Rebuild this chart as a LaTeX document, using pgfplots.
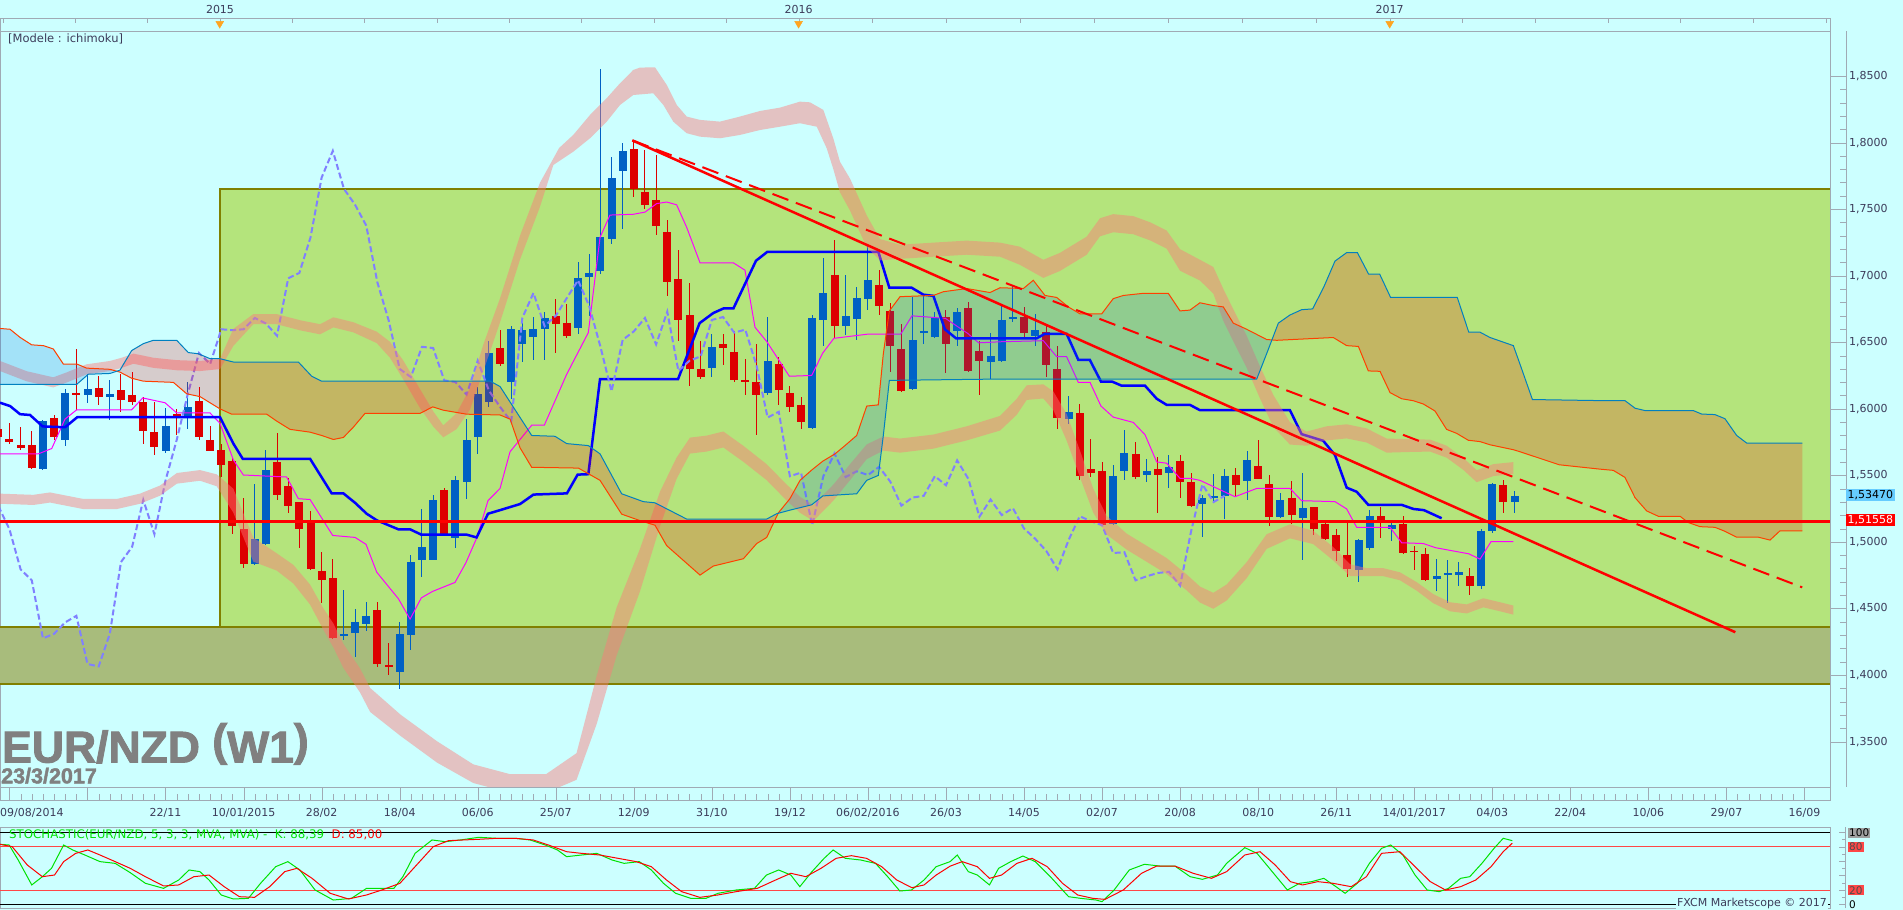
\documentclass[border=0pt]{standalone}
\usepackage{pgfplots}
\pgfplotsset{compat=1.18}
\usepackage{pgfplotstable}
\usepackage{fontspec}
\setmainfont{DejaVu Sans}
\newfontfamily\titlefont{Liberation Sans}[FakeBold=2]

\definecolor{bgcyan}{RGB}{204,255,255}
\definecolor{boxgreen}{RGB}{180,228,124}
\definecolor{boxdark}{RGB}{168,188,124}
\definecolor{olivebox}{RGB}{128,128,0}
\definecolor{cblue}{RGB}{0,96,196}
\definecolor{cred}{RGB}{221,0,0}
\definecolor{kijun}{RGB}{0,0,255}
\definecolor{tenkan}{RGB}{255,0,255}
\definecolor{chikou}{RGB}{128,128,255}
\definecolor{spanAcol}{RGB}{255,64,0}
\definecolor{spanBcol}{RGB}{0,128,192}
\definecolor{bandpink}{RGB}{255,120,120}
\definecolor{cloudred}{RGB}{255,0,0}
\definecolor{cloudblue}{RGB}{0,110,220}
\definecolor{axisgray}{RGB}{160,170,180}
\definecolor{labeltext}{RGB}{60,60,90}
\definecolor{stochgreen}{RGB}{0,225,0}
\definecolor{stochred}{RGB}{255,70,70}
\definecolor{titlegray}{RGB}{128,128,128}
\definecolor{pricelblue}{RGB}{102,204,255}
\definecolor{orangemark}{RGB}{255,165,32}

% weekly candles, x = weeks from 10/01/2015
\pgfplotstableread{
w o h l c
-18 1.5546 1.5914 1.5537 1.5911
-16 1.5764 1.6153 1.5724 1.6119
-14 1.6101 1.6260 1.6046 1.6150
-12 1.6089 1.6214 1.5917 1.6113
-7 1.5687 1.6006 1.5672 1.5871
-5 1.5944 1.6199 1.5852 1.6012
1 1.4831 1.5438 1.4825 1.5024
2 1.4982 1.5693 1.4979 1.5543
9 1.4298 1.4641 1.4267 1.4310
10 1.4319 1.4497 1.4138 1.4396
11 1.4383 1.4549 1.4328 1.4445
14 1.4022 1.4396 1.3899 1.4310
15 1.4298 1.4902 1.4190 1.4849
16 1.4862 1.5248 1.4739 1.4963
17 1.4868 1.5350 1.4865 1.5316
19 1.5028 1.5494 1.4951 1.5463
20 1.5448 1.5923 1.5325 1.5767
21 1.5785 1.6162 1.5662 1.6113
22 1.6052 1.6512 1.6015 1.6420
24 1.6199 1.6622 1.6076 1.6598
25 1.6484 1.6683 1.6352 1.6591
26 1.6542 1.6690 1.6368 1.6598
27 1.6598 1.6726 1.6368 1.6683
30 1.6607 1.7104 1.6561 1.6981
31 1.6987 1.7165 1.6696 1.7021
32 1.7036 1.8554 1.7012 1.7288
33 1.7278 1.7892 1.7242 1.7738
34 1.7788 1.7999 1.7349 1.7938
42 1.6306 1.6561 1.6239 1.6466
47 1.6122 1.6690 1.6107 1.6362
51 1.5855 1.6705 1.5852 1.6683
52 1.6665 1.7134 1.6475 1.6871
54 1.6619 1.7006 1.6552 1.6699
55 1.6677 1.6914 1.6518 1.6834
56 1.6822 1.7226 1.6745 1.6966
60 1.6153 1.6843 1.6144 1.6518
61 1.6570 1.6858 1.6484 1.6582
62 1.6542 1.6730 1.6536 1.6683
64 1.6582 1.6757 1.6475 1.6730
67 1.6349 1.6567 1.6224 1.6395
68 1.6362 1.6782 1.6352 1.6668
69 1.6680 1.6929 1.6653 1.6690
71 1.6545 1.6714 1.6475 1.6595
74 1.5923 1.6098 1.5883 1.5978
78 1.5132 1.5576 1.5129 1.5494
79 1.5531 1.5843 1.5463 1.5665
81 1.5506 1.5622 1.5448 1.5531
83 1.5518 1.5653 1.5402 1.5564
86 1.5285 1.5353 1.5040 1.5334
87 1.5334 1.5512 1.5294 1.5346
88 1.5343 1.5549 1.5172 1.5494
90 1.5457 1.5684 1.5319 1.5613
93 1.5190 1.5371 1.5181 1.5319
95 1.5178 1.5515 1.4862 1.5254
100 1.4788 1.5024 1.4703 1.5015
101 1.4951 1.5242 1.4942 1.5193
103 1.5095 1.5147 1.5009 1.5126
107 1.4721 1.4874 1.4635 1.4742
108 1.4755 1.4865 1.4543 1.4767
109 1.4755 1.4849 1.4672 1.4776
111 1.4666 1.5095 1.4650 1.5086
112 1.5080 1.5444 1.5064 1.5432
114 1.5300 1.5386 1.5218 1.5347
}\upc

\pgfplotstableread{
w o h l c
-22 1.5846 1.5877 1.5770 1.5785
-21 1.5770 1.5892 1.5739 1.5748
-20 1.5730 1.5862 1.5693 1.5708
-19 1.5730 1.5831 1.5552 1.5555
-17 1.5935 1.5954 1.5764 1.5785
-15 1.6119 1.6450 1.5990 1.6101
-13 1.6156 1.6248 1.6030 1.6092
-11 1.6144 1.6260 1.5978 1.6070
-10 1.6101 1.6276 1.6030 1.6055
-9 1.6052 1.6092 1.5739 1.5831
-8 1.5828 1.6052 1.5653 1.5717
-6 1.5960 1.6000 1.5806 1.5929
-4 1.6061 1.6168 1.5764 1.5791
-3 1.5767 1.5868 1.5684 1.5687
-2 1.5693 1.5733 1.5488 1.5576
-1 1.5610 1.5632 1.5058 1.5120
0 1.5095 1.5331 1.4804 1.4831
3 1.5601 1.5822 1.5319 1.5356
4 1.5420 1.5478 1.5218 1.5270
5 1.5300 1.5300 1.4957 1.5095
6 1.5147 1.5233 1.4791 1.4794
7 1.4785 1.4926 1.4543 1.4712
8 1.4730 1.4874 1.4273 1.4276
12 1.4491 1.4549 1.4058 1.4083
13 1.4077 1.4242 1.4000 1.4065
18 1.5392 1.5408 1.5055 1.5058
23 1.6460 1.6591 1.6322 1.6337
28 1.6696 1.6828 1.6420 1.6641
29 1.6644 1.6788 1.6536 1.6549
35 1.7953 1.8017 1.7591 1.7653
36 1.7631 1.7947 1.7502 1.7533
37 1.7570 1.7904 1.7303 1.7377
38 1.7331 1.7416 1.6849 1.6950
39 1.6972 1.7196 1.6512 1.6668
40 1.6702 1.6944 1.6174 1.6300
41 1.6297 1.6512 1.6224 1.6239
43 1.6484 1.6561 1.6331 1.6457
44 1.6429 1.6582 1.6199 1.6214
45 1.6214 1.6374 1.6101 1.6202
46 1.6199 1.6484 1.5800 1.6107
48 1.6334 1.6389 1.6030 1.6138
49 1.6116 1.6168 1.5978 1.6015
50 1.6027 1.6086 1.5849 1.5905
53 1.7006 1.7266 1.6530 1.6622
57 1.6932 1.7042 1.6705 1.6772
58 1.6736 1.6794 1.6276 1.6469
59 1.6450 1.6634 1.6128 1.6131
63 1.6693 1.6745 1.6269 1.6484
65 1.6760 1.6806 1.6276 1.6285
66 1.6435 1.6512 1.6101 1.6362
70 1.6690 1.6766 1.6536 1.6573
72 1.6576 1.6628 1.6236 1.6328
73 1.6300 1.6469 1.5852 1.5935
75 1.5966 1.6036 1.5463 1.5494
76 1.5549 1.5770 1.5488 1.5521
77 1.5534 1.5601 1.5123 1.5126
80 1.5662 1.5751 1.5472 1.5488
82 1.5549 1.5641 1.5218 1.5503
84 1.5610 1.5650 1.5331 1.5454
85 1.5448 1.5515 1.5264 1.5273
89 1.5500 1.5558 1.5340 1.5426
91 1.5567 1.5764 1.5472 1.5475
92 1.5432 1.5500 1.5120 1.5190
94 1.5334 1.5457 1.5135 1.5202
96 1.5261 1.5261 1.5055 1.5101
97 1.5135 1.5150 1.5018 1.5024
98 1.5052 1.5095 1.4856 1.4932
99 1.4899 1.5156 1.4733 1.4794
102 1.5193 1.5264 1.5028 1.5156
104 1.5135 1.5193 1.4911 1.4917
105 1.4935 1.4972 1.4788 1.4923
106 1.4911 1.4957 1.4709 1.4712
110 1.4748 1.4804 1.4604 1.4672
113 1.5426 1.5463 1.5218 1.5300
}\dnc

\begin{document}
\begin{tikzpicture}
\useasboundingbox (0pt,0pt) rectangle (1903pt,910pt);
\fill[bgcyan] (0pt,0pt) rectangle (1903pt,910pt);

% ---------------- main price panel
\begin{axis}[at={(0pt,123pt)}, anchor=south west, scale only axis,
  width=1830pt, height=756pt,
  xmin=-21.85, xmax=142.29, ymin=1.3159, ymax=1.8839,
  axis line style={draw=axisgray}, xtick=\empty, ytick=\empty]

% zones
\addplot[fill=boxdark, draw=olivebox, line width=2pt] coordinates {(-25,1.3936) (145,1.3936) (145,1.4359) (-25,1.4359) (-25,1.3936)};
\addplot[fill=boxgreen, draw=olivebox, line width=2pt] coordinates {(-2.12,1.4359) (145,1.4359) (145,1.7653) (-2.12,1.7653) (-2.12,1.4359)};

% candles: wicks and bodies
\addplot[draw=none, forget plot, error bars/y dir=both, error bars/y explicit, error bars/error mark=none,
  error bars/error bar style={draw=cred, line width=1pt, solid}]
  table[x=w, y expr={(\thisrow{h}+\thisrow{l})/2}, y error expr={(\thisrow{h}-\thisrow{l})/2}] {\dnc};
\addplot[draw=none, forget plot, error bars/y dir=both, error bars/y explicit, error bars/error mark=none,
  error bars/error bar style={draw=cblue, line width=1pt, solid}]
  table[x=w, y expr={(\thisrow{h}+\thisrow{l})/2}, y error expr={(\thisrow{h}-\thisrow{l})/2}] {\upc};
\addplot[draw=none, forget plot, error bars/y dir=both, error bars/y explicit, error bars/error mark=none,
  error bars/error bar style={draw=cred, line width=8pt, solid, line cap=butt}]
  table[x=w, y expr={(\thisrow{o}+\thisrow{c})/2}, y error expr={abs(\thisrow{o}-\thisrow{c})/2}] {\dnc};
\addplot[draw=none, forget plot, error bars/y dir=both, error bars/y explicit, error bars/error mark=none,
  error bars/error bar style={draw=cblue, line width=8pt, solid, line cap=butt}]
  table[x=w, y expr={(\thisrow{o}+\thisrow{c})/2}, y error expr={abs(\thisrow{o}-\thisrow{c})/2}] {\upc};

% tenkan
\addplot[tenkan, line width=1pt] coordinates {
(-21.85,1.5662) (-18.41,1.5662) (-17.21,1.5702) (-16.02,1.5923) (-14.97,1.5993) (-10.04,1.5993) (-9.05,1.6082) (-7.05,1.6046) (-6.0,1.5969) (-3.01,1.5969) (-2.12,1.5892) (-0.92,1.5616) (-0.02,1.5503) (3.86,1.5488) (4.91,1.5325) (5.96,1.5319) (7.99,1.5049) (10.0,1.5034) (10.98,1.4982) (11.94,1.4773) (13.88,1.4574) (14.93,1.4420) (15.94,1.4580) (16.96,1.4629) (18.96,1.4696) (19.94,1.4844) (20.93,1.5034) (21.92,1.5310) (23.0,1.5402) (23.9,1.5678) (25.84,1.5877) (26.97,1.5877) (28.98,1.6260) (30.92,1.6573) (31.97,1.7288) (32.86,1.7456) (34.96,1.7462) (36.0,1.7478) (37.05,1.7542) (37.95,1.7554) (38.84,1.7533) (39.74,1.7364) (40.94,1.7097) (43.93,1.7097) (44.97,1.7042) (45.87,1.6613) (46.92,1.6506) (48.95,1.6245) (50.95,1.6251) (51.95,1.6420) (52.95,1.6530) (55.95,1.6561) (58.94,1.6561) (59.95,1.6699) (62.94,1.6680) (64.95,1.6567) (65.93,1.6496) (67.85,1.6504) (71.73,1.6512) (72.93,1.6392) (73.82,1.6392) (74.87,1.6199) (75.92,1.6199) (76.9,1.6021) (78.0,1.5938) (79.8,1.5898) (80.85,1.5806) (81.9,1.5601) (82.79,1.5592) (83.99,1.5478) (84.88,1.5478) (85.78,1.5463) (88.92,1.5340) (90.87,1.5402) (93.85,1.5402) (94.9,1.5310) (97.89,1.5303) (98.94,1.5248) (99.84,1.5110) (102.83,1.5110) (103.87,1.4994) (105.82,1.4988) (106.9,1.4957) (109.89,1.4911) (110.9,1.4871) (111.89,1.5003) (113.89,1.5003)};

% kijun
\addplot[kijun, line width=2.5pt] coordinates {
(-21.85,1.6046) (-20.95,1.6021) (-20.05,1.5960) (-19.16,1.5954) (-18.02,1.5868) (-16.02,1.5862) (-14.91,1.5938) (-2.12,1.5938) (-0.92,1.5739) (-0.08,1.5625) (5.96,1.5625) (7.9,1.5365) (8.95,1.5365) (10.0,1.5294) (11.04,1.5212) (11.94,1.5163) (13.88,1.5095) (14.93,1.5095) (15.94,1.5055) (20.0,1.5055) (20.9,1.5034) (21.92,1.5212) (23.0,1.5239) (24.8,1.5285) (26.0,1.5356) (29.0,1.5365) (29.96,1.5506) (30.92,1.5509) (31.97,1.6224) (38.97,1.6224) (40.9,1.6644) (42.13,1.6720) (43.03,1.6754) (43.93,1.6754) (45.96,1.7113) (46.98,1.7180) (56.93,1.7180) (57.92,1.6910) (59.92,1.6910) (60.97,1.6858) (61.87,1.6849) (62.9,1.6598) (63.9,1.6530) (71.13,1.6530) (71.88,1.6564) (73.82,1.6564) (74.87,1.6368) (75.9,1.6368) (76.9,1.6205) (77.89,1.6205) (78.76,1.6174) (80.85,1.6174) (81.9,1.6076) (82.79,1.6030) (84.88,1.6030) (85.78,1.5990) (93.85,1.5990) (94.9,1.5810) (96.84,1.5760) (97.89,1.5653) (98.94,1.5408) (99.84,1.5377) (100.88,1.5279) (103.87,1.5279) (104.92,1.5248) (105.87,1.5239) (107.46,1.5178)};

% chikou (close shifted 26 weeks back)
\addplot[chikou, line width=2pt, dash pattern=on 6pt off 3pt] coordinates {
(-22,1.5270) (-21,1.5095) (-20,1.4794) (-19,1.4712) (-18,1.4276) (-17,1.4310) (-16,1.4396) (-15,1.4445) (-14,1.4083) (-13,1.4065) (-12,1.4310) (-11,1.4849) (-10,1.4963) (-9,1.5316) (-8,1.5058) (-7,1.5463) (-6,1.5767) (-5,1.6113) (-4,1.6420) (-3,1.6337) (-2,1.6598) (-1,1.6591) (0,1.6598) (1,1.6683) (2,1.6641) (3,1.6549) (4,1.6981) (5,1.7021) (6,1.7288) (7,1.7738) (8,1.7938) (9,1.7653) (10,1.7533) (11,1.7377) (12,1.6950) (13,1.6668) (14,1.6300) (15,1.6239) (16,1.6466) (17,1.6457) (18,1.6214) (19,1.6202) (20,1.6107) (21,1.6362) (22,1.6138) (23,1.6015) (24,1.5905) (25,1.6683) (26,1.6871) (27,1.6622) (28,1.6699) (29,1.6834) (30,1.6966) (31,1.6772) (32,1.6469) (33,1.6131) (34,1.6518) (35,1.6582) (36,1.6683) (37,1.6484) (38,1.6730) (39,1.6285) (40,1.6362) (41,1.6395) (42,1.6668) (43,1.6690) (44,1.6573) (45,1.6595) (46,1.6328) (47,1.5935) (48,1.5978) (49,1.5494) (50,1.5521) (51,1.5126) (52,1.5494) (53,1.5665) (54,1.5488) (55,1.5531) (56,1.5503) (57,1.5564) (58,1.5454) (59,1.5273) (60,1.5334) (61,1.5346) (62,1.5494) (63,1.5426) (64,1.5613) (65,1.5475) (66,1.5190) (67,1.5319) (68,1.5202) (69,1.5254) (70,1.5101) (71,1.5024) (72,1.4932) (73,1.4794) (74,1.5015) (75,1.5193) (76,1.5156) (77,1.5126) (78,1.4917) (79,1.4923) (80,1.4712) (81,1.4742) (82,1.4767) (83,1.4776) (84,1.4672) (85,1.5086) (86,1.5432) (87,1.5300) (88,1.5347)};

% pink bands (upper and lower envelope, area between the two edges)
\addplot[fill=bandpink, fill opacity=0.45, draw=none] coordinates {
(-21.85,1.6360) (-19.46,1.6283) (-17.07,1.6237) (-15.87,1.6274) (-14.08,1.6335) (-11.98,1.6360) (-10.93,1.6384) (-9.88,1.6415) (-8.09,1.6384) (-5.99,1.6366) (-3.91,1.6360) (-2.12,1.6375) (-0.92,1.6601) (0.87,1.6712) (2.97,1.6712) (5.06,1.6666) (6.86,1.6636) (8.05,1.6688) (9.84,1.6651) (11.94,1.6580) (13.13,1.6504) (14.33,1.6362) (15.83,1.6147) (17.02,1.5980) (17.91,1.5876) (19.11,1.5968) (20.31,1.6156) (21.5,1.6483) (23.0,1.6830) (24.79,1.7301) (26.59,1.7700) (28.3,1.7960) (29.57,1.8058) (31.07,1.8208) (32.57,1.8334) (33.76,1.8446) (34.95,1.8546) (35.55,1.8564) (36.9,1.8566) (37.95,1.8434) (38.85,1.8283) (39.74,1.8196) (40.94,1.8171) (42.73,1.8158) (44.52,1.8196) (46.32,1.8238) (48.11,1.8263) (49.9,1.8308) (50.8,1.8303) (52.0,1.8246) (52.89,1.8033) (53.49,1.7857) (54.39,1.7730) (55.89,1.7454) (57.08,1.7276) (58.88,1.7233) (61.87,1.7249) (64.86,1.7264) (67.85,1.7249) (69.64,1.7218) (71.73,1.7120) (73.22,1.7172) (74.42,1.7233) (75.62,1.7294) (76.81,1.7432) (78.0,1.7463) (79.8,1.7448) (81.3,1.7402) (82.79,1.7340) (83.99,1.7200) (85.78,1.7120) (86.98,1.7066) (87.87,1.6902) (88.77,1.6748) (89.97,1.6549) (91.16,1.6319) (92.36,1.6104) (93.85,1.5900) (95.34,1.5829) (97.14,1.5869) (98.94,1.5884) (100.73,1.5853) (102.53,1.5777) (104.62,1.5772) (106.42,1.5769) (107.91,1.5723) (109.41,1.5631) (110.6,1.5539) (112.1,1.5585) (113.89,1.5600)
(113.89,1.5510) (112.1,1.5495) (110.6,1.5449) (109.41,1.5541) (107.91,1.5633) (106.42,1.5679) (104.62,1.5676) (102.53,1.5671) (100.73,1.5747) (98.94,1.5778) (97.14,1.5763) (95.34,1.5723) (93.85,1.5732) (92.36,1.5864) (91.16,1.6079) (89.97,1.6309) (88.77,1.6508) (87.87,1.6662) (86.98,1.6866) (85.78,1.6964) (83.99,1.7038) (82.79,1.7204) (81.3,1.7266) (79.8,1.7312) (78.0,1.7327) (76.81,1.7296) (75.62,1.7158) (74.42,1.7097) (73.22,1.7036) (71.73,1.6984) (69.64,1.7082) (67.85,1.7143) (64.86,1.7158) (61.87,1.7143) (58.88,1.7127) (57.08,1.7116) (55.89,1.7214) (54.39,1.7490) (53.49,1.7627) (52.89,1.7803) (52.3,1.7958) (51.41,1.8120) (49.9,1.8146) (48.11,1.8120) (46.32,1.8095) (44.52,1.8058) (42.73,1.8033) (40.94,1.8045) (39.74,1.8071) (38.54,1.8158) (37.65,1.8283) (36.75,1.8371) (34.95,1.8358) (33.76,1.8283) (32.57,1.8158) (31.07,1.8033) (29.57,1.7932) (27.78,1.7832) (26.59,1.7520) (24.79,1.7121) (23.0,1.6650) (21.5,1.6283) (20.31,1.5996) (19.11,1.5848) (17.91,1.5786) (17.02,1.5866) (15.83,1.6005) (14.33,1.6220) (13.13,1.6384) (11.94,1.6494) (9.84,1.6575) (8.05,1.6612) (6.86,1.6560) (5.06,1.6590) (2.97,1.6636) (0.87,1.6636) (-0.92,1.6473) (-2.12,1.6299) (-3.91,1.6284) (-5.99,1.6290) (-8.09,1.6308) (-9.88,1.6339) (-10.93,1.6308) (-11.98,1.6284) (-14.08,1.6259) (-15.87,1.6198) (-17.07,1.6161) (-19.46,1.6207) (-21.85,1.6284)};
\addplot[fill=bandpink, fill opacity=0.45, draw=none] coordinates {
(-21.85,1.5363) (-18.86,1.5354) (-17.36,1.5372) (-14.37,1.5323) (-11.38,1.5323) (-9.29,1.5363) (-7.49,1.5424) (-5.99,1.5518) (-3.91,1.5540) (-2.41,1.5508) (-0.92,1.5400) (0.87,1.5032) (2.97,1.4915) (4.46,1.4828) (5.96,1.4680) (7.16,1.4500) (8.05,1.4388) (8.95,1.4234) (10.44,1.4050) (11.35,1.3903) (14.07,1.3703) (17.34,1.3503) (20.6,1.3329) (23.87,1.3256) (27.14,1.3256) (29.86,1.3413) (31.67,1.3993) (33.46,1.4508) (35.55,1.4948) (37.35,1.5378) (38.84,1.5635) (40.04,1.5784) (41.53,1.5799) (43.03,1.5830) (44.83,1.5722) (46.92,1.5584) (48.71,1.5431) (49.91,1.5339) (51.11,1.5278) (52.9,1.5431) (54.39,1.5584) (55.89,1.5733) (57.38,1.5792) (58.88,1.5777) (61.87,1.5807) (64.86,1.5869) (67.85,1.5947) (69.34,1.6075) (70.24,1.6177) (71.73,1.6184) (72.63,1.6131) (73.82,1.5962) (75.02,1.5686) (76.21,1.5400) (77.41,1.5196) (79.2,1.5063) (81.0,1.4971) (82.79,1.4879) (84.59,1.4756) (85.78,1.4665) (86.98,1.4618) (88.17,1.4680) (89.97,1.4848) (91.76,1.5058) (93.85,1.5133) (95.94,1.5084) (97.74,1.4961) (99.24,1.4833) (100.73,1.4803) (102.23,1.4803) (103.72,1.4772) (105.22,1.4698) (106.71,1.4608) (108.21,1.4547) (109.71,1.4531) (111.2,1.4577) (112.7,1.4547) (113.89,1.4522)
(113.89,1.4454) (112.7,1.4479) (111.2,1.4509) (109.71,1.4463) (108.21,1.4479) (106.71,1.4540) (105.22,1.4634) (103.72,1.4712) (102.23,1.4743) (100.73,1.4743) (99.24,1.4743) (97.74,1.4861) (95.94,1.4984) (93.85,1.5027) (91.76,1.4948) (89.97,1.4728) (88.17,1.4560) (86.98,1.4498) (85.78,1.4545) (84.59,1.4636) (82.79,1.4759) (81.0,1.4851) (79.2,1.4943) (77.41,1.5056) (76.21,1.5220) (75.02,1.5486) (73.82,1.5762) (72.63,1.5991) (71.73,1.6078) (70.24,1.6067) (69.34,1.5955) (67.85,1.5837) (64.86,1.5763) (61.87,1.5701) (58.88,1.5671) (57.38,1.5686) (55.89,1.5623) (54.39,1.5464) (52.9,1.5311) (51.11,1.5158) (49.91,1.5219) (48.71,1.5311) (46.92,1.5464) (44.83,1.5602) (43.03,1.5710) (41.53,1.5679) (40.04,1.5664) (38.84,1.5475) (37.35,1.5118) (35.55,1.4628) (33.46,1.4148) (31.67,1.3633) (29.86,1.3213) (27.14,1.3116) (23.87,1.3116) (20.6,1.3189) (17.34,1.3343) (14.07,1.3543) (11.35,1.3723) (10.44,1.3870) (8.95,1.4054) (8.05,1.4208) (7.16,1.4340) (5.96,1.4530) (4.46,1.4688) (2.97,1.4785) (0.87,1.4852) (-0.92,1.5220) (-2.41,1.5418) (-3.91,1.5460) (-5.99,1.5438) (-7.49,1.5348) (-9.29,1.5287) (-11.38,1.5247) (-14.37,1.5247) (-17.36,1.5296) (-18.86,1.5278) (-21.85,1.5287)};

% kumo (cloud) between senkou span A and B: blue where A > B, red where B > A
\addplot[fill=cloudblue, fill opacity=0.2, draw=none] coordinates {
(-21.85,1.6604) (-20.95,1.6598) (-20.05,1.6537) (-19.01,1.6481) (-17.96,1.6475) (-17.07,1.6450) (-16.17,1.6337) (-14.97,1.6337) (-14.08,1.6306) (-11.98,1.6297) (-11.38,1.6283) (-11.98,1.6266) (-13.93,1.6260) (-14.97,1.6184) (-21.85,1.6184)};
\addplot[fill=cloudred, fill opacity=0.2, draw=none] coordinates {
(-11.38,1.6283) (-11.09,1.6291) (-10.04,1.6438) (-8.99,1.6490) (-8.1,1.6515) (-6.0,1.6515) (-4.96,1.6423) (-4.06,1.6414) (-3.01,1.6377) (-2.12,1.6377) (-0.92,1.6352) (4.91,1.6352) (6.11,1.6245) (7.0,1.6208) (22.11,1.6208) (23.0,1.6168) (25.84,1.5800) (27.93,1.5794) (28.98,1.5739) (30.92,1.5724) (31.97,1.5662) (33.91,1.5362) (35.85,1.5303) (36.9,1.5294) (39.74,1.5172) (46.92,1.5172) (47.81,1.5212) (47.94,1.5215) (46.92,1.5034) (46.02,1.4988) (44.83,1.4874) (42.13,1.4819) (40.94,1.4751) (37.95,1.4972) (36.9,1.5126) (35.7,1.5156) (33.91,1.5209) (31.97,1.5463) (30.03,1.5555) (25.84,1.5561) (24.79,1.5708) (23.9,1.5923) (23.0,1.5954) (20.0,1.5960) (17.91,1.5990) (16.96,1.6015) (15.83,1.5966) (10.89,1.5966) (9.84,1.5862) (8.95,1.5785) (8.05,1.5770) (7.0,1.5800) (5.96,1.5825) (4.16,1.5846) (2.97,1.5908) (2.07,1.5960) (-1.07,1.5960) (-2.12,1.6000) (-3.91,1.6092) (-5.1,1.6113) (-6.3,1.6199) (-8.99,1.6208) (-10.04,1.6230) (-11.09,1.6276) (-11.38,1.6283)};
\addplot[fill=cloudblue, fill opacity=0.2, draw=none] coordinates {
(47.94,1.5215) (47.96,1.5218) (49.0,1.5325) (49.91,1.5463) (50.95,1.5540) (51.95,1.5607) (53.05,1.5662) (53.94,1.5724) (54.99,1.5800) (55.89,1.6021) (56.93,1.6030) (57.38,1.6414) (57.92,1.6736) (58.88,1.6843) (61.87,1.6852) (62.76,1.6880) (64.86,1.6904) (66.95,1.6874) (67.85,1.6910) (69.94,1.6904) (70.83,1.6966) (71.88,1.6852) (72.93,1.6837) (73.97,1.6766) (75.02,1.6714) (76.97,1.6714) (78.0,1.6828) (78.91,1.6852) (80.7,1.6868) (82.94,1.6868) (83.99,1.6736) (84.88,1.6742) (85.78,1.6797) (86.98,1.6776) (87.87,1.6766) (88.77,1.6644) (89.97,1.6598) (91.76,1.6521) (92.23,1.6518) (91.76,1.6414) (90.87,1.6224) (67.85,1.6224) (57.92,1.6214) (57.38,1.5800) (56.93,1.5500) (55.89,1.5463) (54.99,1.5362) (51.95,1.5346) (50.95,1.5279) (49.0,1.5239) (47.94,1.5215)};
\addplot[fill=cloudred, fill opacity=0.2, draw=none] coordinates {
(92.23,1.6518) (92.81,1.6644) (93.85,1.6705) (94.9,1.6745) (95.89,1.6751) (96.91,1.6920) (97.89,1.7110) (98.94,1.7174) (99.9,1.7174) (100.91,1.7012) (101.9,1.7012) (102.88,1.6837) (108.86,1.6837) (109.89,1.6576) (110.9,1.6576) (111.8,1.6536) (113.89,1.6475) (114.48,1.6337) (115.6,1.6070) (121.66,1.6062) (123.9,1.6062) (124.8,1.6005) (125.7,1.5987) (130.03,1.5987) (130.78,1.5961) (131.97,1.5957) (132.87,1.5926) (133.92,1.5800) (134.82,1.5743) (139.81,1.5743) (139.81,1.5084) (137.81,1.5084) (136.91,1.5014) (135.86,1.5036) (133.92,1.5036) (132.87,1.5080) (131.97,1.5110) (130.63,1.5115) (129.58,1.5146) (128.84,1.5193) (126.89,1.5193) (125.85,1.5233) (124.8,1.5333) (123.9,1.5485) (122.85,1.5538) (121.66,1.5547) (118.0,1.5580) (114.48,1.5678) (113.89,1.5693) (111.8,1.5730) (110.9,1.5754) (109.85,1.5764) (108.8,1.5816) (107.9,1.5846) (106.86,1.5984) (105.82,1.6036) (104.92,1.6061) (103.87,1.6076) (102.83,1.6122) (101.93,1.6282) (100.88,1.6285) (99.99,1.6469) (98.94,1.6475) (97.74,1.6536) (92.66,1.6515) (92.23,1.6518)};

% senkou span lines
\addplot[spanAcol, line width=1pt] coordinates {
(-21.85,1.6604) (-20.95,1.6598) (-20.05,1.6537) (-19.01,1.6481) (-17.96,1.6475) (-17.07,1.6450) (-16.17,1.6337) (-14.97,1.6337) (-14.08,1.6306) (-11.98,1.6297) (-11.09,1.6276) (-10.04,1.6230) (-8.99,1.6208) (-6.3,1.6199) (-5.1,1.6113) (-3.91,1.6092) (-2.12,1.6000) (-1.07,1.5960) (2.07,1.5960) (2.97,1.5908) (4.16,1.5846) (5.96,1.5825) (7.0,1.5800) (8.05,1.5770) (8.95,1.5785) (9.84,1.5862) (10.89,1.5966) (15.83,1.5966) (16.96,1.6015) (17.91,1.5990) (20.0,1.5960) (23.0,1.5954) (23.9,1.5923) (24.79,1.5708) (25.84,1.5561) (30.03,1.5555) (31.97,1.5463) (33.91,1.5209) (35.7,1.5156) (36.9,1.5126) (37.95,1.4972) (40.94,1.4751) (42.13,1.4819) (44.83,1.4874) (46.02,1.4988) (46.92,1.5034) (47.96,1.5218) (49.0,1.5325) (49.91,1.5463) (50.95,1.5540) (51.95,1.5607) (53.05,1.5662) (53.94,1.5724) (54.99,1.5800) (55.89,1.6021) (56.93,1.6030) (57.38,1.6414) (57.92,1.6736) (58.88,1.6843) (61.87,1.6852) (62.76,1.6880) (64.86,1.6904) (66.95,1.6874) (67.85,1.6910) (69.94,1.6904) (70.83,1.6966) (71.88,1.6852) (72.93,1.6837) (73.97,1.6766) (75.02,1.6714) (76.97,1.6714) (78.0,1.6828) (78.91,1.6852) (80.7,1.6868) (82.94,1.6868) (83.99,1.6736) (84.88,1.6742) (85.78,1.6797) (86.98,1.6776) (87.87,1.6766) (88.77,1.6644) (89.97,1.6598) (91.76,1.6521) (92.66,1.6515) (97.74,1.6536) (98.94,1.6475) (99.99,1.6469) (100.88,1.6285) (101.93,1.6282) (102.83,1.6122) (103.87,1.6076) (104.92,1.6061) (105.82,1.6036) (106.86,1.5984) (107.9,1.5846) (108.8,1.5816) (109.85,1.5764) (110.9,1.5754) (111.8,1.5730) (113.89,1.5693) (114.48,1.5678) (118.0,1.5580) (121.66,1.5547) (122.85,1.5538) (123.9,1.5485) (124.8,1.5333) (125.85,1.5233) (126.89,1.5193) (128.84,1.5193) (129.58,1.5146) (130.63,1.5115) (131.97,1.5110) (132.87,1.5080) (133.92,1.5036) (135.86,1.5036) (136.91,1.5014) (137.81,1.5084) (139.81,1.5084)};
\addplot[spanBcol, line width=1pt] coordinates {
(-21.85,1.6184) (-14.97,1.6184) (-13.93,1.6260) (-11.98,1.6266) (-11.09,1.6291) (-10.04,1.6438) (-8.99,1.6490) (-8.1,1.6515) (-6.0,1.6515) (-4.96,1.6423) (-4.06,1.6414) (-3.01,1.6377) (-2.12,1.6377) (-0.92,1.6352) (4.91,1.6352) (6.11,1.6245) (7.0,1.6208) (22.11,1.6208) (23.0,1.6168) (25.84,1.5800) (27.93,1.5794) (28.98,1.5739) (30.92,1.5724) (31.97,1.5662) (33.91,1.5362) (35.85,1.5303) (36.9,1.5294) (39.74,1.5172) (46.92,1.5172) (47.81,1.5212) (49.0,1.5239) (50.95,1.5279) (51.95,1.5346) (54.99,1.5362) (55.89,1.5463) (56.93,1.5500) (57.38,1.5800) (57.92,1.6214) (67.85,1.6224) (90.87,1.6224) (91.76,1.6414) (92.81,1.6644) (93.85,1.6705) (94.9,1.6745) (95.89,1.6751) (96.91,1.6920) (97.89,1.7110) (98.94,1.7174) (99.9,1.7174) (100.91,1.7012) (101.9,1.7012) (102.88,1.6837) (108.86,1.6837) (109.89,1.6576) (110.9,1.6576) (111.8,1.6536) (113.89,1.6475) (114.48,1.6337) (115.6,1.6070) (121.66,1.6062) (123.9,1.6062) (124.8,1.6005) (125.7,1.5987) (130.03,1.5987) (130.78,1.5961) (131.97,1.5957) (132.87,1.5926) (133.92,1.5800) (134.82,1.5743) (139.81,1.5743)};

% support line and trend lines
\addplot[red, line width=3pt] coordinates {(-21.85,1.51558) (142.29,1.51558)};
\addplot[red, line width=2.5pt] coordinates {(34.87,1.8017) (133.8,1.4322)};
\addplot[red, line width=2pt, dash pattern=on 17pt off 8pt] coordinates {(34.87,1.8017) (139.8,1.4659)};
\end{axis}

% ---------------- right price scale
\begin{axis}[at={(0pt,123pt)}, anchor=south west, scale only axis,
  width=1846pt, height=756pt, xmin=0, xmax=1, ymin=1.3159, ymax=1.8839,
  axis x line=none, axis y line*=right, axis line style={draw=axisgray},
  ytick={1.35,1.40,1.45,1.50,1.55,1.60,1.65,1.70,1.75,1.80,1.85},
  minor y tick num=4, tick align=inside, major tick length=15pt, minor tick length=6pt,
  tick style={draw=axisgray},
  yticklabel style={anchor=west, inner sep=0pt, xshift=3pt, font=\fontsize{11}{13}\selectfont, text=labeltext,
    /pgf/number format/.cd, fixed, fixed zerofill, precision=4, use comma, assume math mode=true}]
\addplot[draw=none] coordinates {(0.5,1.5)};
\end{axis}

% ---------------- bottom date strip
\begin{axis}[at={(0pt,110pt)}, anchor=south west, scale only axis,
  width=1830pt, height=13pt, xmin=-21.85, xmax=142.29, ymin=0, ymax=1,
  axis line style={draw=axisgray}, ytick=\empty,
  xtick={-21,-14,...,140},
  xticklabels={,,22/11,10/01/2015,28/02,18/04,06/06,25/07,12/09,31/10,19/12,06/02/2016,26/03,14/05,02/07,20/08,08/10,26/11,14/01/2017,04/03,22/04,10/06,29/07,16/09},
  minor x tick num=6, xtick pos=left, tick align=inside, major tick length=13pt, minor tick length=6pt,
  tick style={draw=axisgray},
  xticklabel style={anchor=center, inner sep=0pt, yshift=-13pt, font=\fontsize{11}{13}\selectfont, text=labeltext}]
\addplot[draw=none] coordinates {(0,0.5)};
\end{axis}

% ---------------- top year strip
\begin{axis}[at={(0pt,878.3pt)}, anchor=south west, scale only axis,
  width=1830pt, height=13.4pt, xmin=-21.85, xmax=142.29, ymin=0, ymax=1,
  axis line style={draw=axisgray}, ytick=\empty,
  xtick={-21.61,-15.12,-8.63,-2.14,4.35,10.84,17.33,23.82,30.31,36.80,43.29,49.78,56.41,63.03,69.66,76.29,82.92,89.55,96.17,102.8,109.32,115.84,122.36,128.88,135.4,141.92},
  xticklabels={}, xtick pos=right, tick align=inside, major tick length=5pt, tick style={draw=axisgray}, clip=false]
\addplot[only marks, mark=triangle*, mark size=4.5pt, mark options={rotate=180, fill=orangemark, draw=orangemark}] coordinates {(-2.14,0.6) (49.78,0.6) (102.8,0.6)};
\end{axis}

% ---------------- stochastic panel
\begin{axis}[at={(0pt,2pt)}, anchor=south west, scale only axis,
  width=1830pt, height=81pt, xmin=-21.85, xmax=142.29, ymin=-5.1, ymax=107.4,
  axis line style={draw=axisgray}, xtick=\empty, ytick=\empty]
\addplot[black, line width=1pt] coordinates {(-21.85,100) (142.29,100)};
\addplot[black, line width=1pt] coordinates {(-21.85,0) (142.29,0)};
\addplot[stochred, line width=0.8pt] coordinates {(-21.85,80) (142.29,80)};
\addplot[stochred, line width=0.8pt] coordinates {(-21.85,20) (142.29,20)};
\addplot[stochgreen, line width=1pt] coordinates {
(-21.85,83.3) (-21.03,82.4) (-20.22,61.6) (-19.0,26.9) (-18.05,38.4) (-17.23,50.0) (-16.14,82.4) (-15.33,75.5) (-14.24,68.5) (-12.88,59.3) (-11.52,56.9) (-10.17,44.0) (-8.81,29.2) (-7.18,22.2) (-5.82,33.8) (-4.89,47.7) (-3.92,45.4) (-3.1,33.8) (-2.01,13.0) (-0.92,7.4) (0.43,8.3) (1.52,29.2) (2.88,52.3) (3.97,59.3) (5.05,47.7) (6.41,19.9) (8.04,6.0) (9.67,8.3) (11.03,22.2) (12.12,22.2) (13.48,22.2) (14.29,38.4) (15.38,70.8) (16.9,89.4) (18.1,87.0) (19.45,89.4) (21.09,93.1) (22.72,91.7) (24.35,91.7) (25.7,89.4) (27.06,82.4) (28.15,75.5) (28.97,66.2) (30.32,68.5) (31.68,70.8) (33.04,61.6) (34.13,56.9) (35.49,59.3) (36.57,47.7) (37.66,29.2) (38.75,15.3) (40.11,8.3) (41.47,8.3) (42.55,15.3) (44.18,19.9) (45.82,22.2) (46.9,40.7) (47.99,47.7) (49.08,40.7) (49.89,24.5) (50.98,45.4) (52.07,63.9) (52.88,75.5) (53.97,63.9) (55.33,61.6) (56.68,56.9) (57.77,38.4) (58.86,18.5) (59.9,19.9) (61.03,33.8) (62.12,52.3) (63.37,59.3) (64.01,68.5) (65.0,45.4) (65.81,40.7) (66.9,26.9) (67.72,50.0) (68.81,59.3) (69.9,67.1) (71.0,59.3) (72.36,38.4) (74.0,10.6) (75.08,8.3) (76.45,6.0) (77.0,3.7) (78.08,19.9) (79.44,47.7) (80.8,55.6) (82.17,53.2) (83.53,53.2) (84.9,38.4) (85.99,34.7) (87.35,40.7) (88.17,56.9) (89.8,78.7) (90.9,70.8) (92.26,45.4) (93.62,19.9) (94.71,29.2) (95.8,31.5) (96.89,36.1) (97.98,24.5) (98.8,15.3) (99.89,29.2) (100.98,56.9) (102.07,77.8) (102.89,82.4) (103.98,68.5) (105.07,40.7) (106.16,19.9) (107.25,17.6) (108.07,22.2) (109.16,36.1) (109.98,38.4) (111.07,56.9) (112.16,77.8) (112.98,91.7) (113.8,88.4)};
\addplot[red, line width=1pt] coordinates {
(-21.85,83.3) (-20.76,80.1) (-19.4,54.6) (-18.05,38.4) (-16.96,40.7) (-16.14,59.3) (-15.06,70.8) (-13.97,75.5) (-12.88,68.5) (-11.52,59.3) (-10.17,50.0) (-8.81,38.4) (-7.18,25.5) (-5.82,26.9) (-4.46,38.4) (-3.1,40.7) (-1.74,24.5) (-0.38,10.6) (0.98,9.7) (2.34,24.5) (3.69,45.4) (4.78,50.0) (6.14,36.1) (7.77,15.3) (9.4,7.4) (11.03,13.0) (12.39,19.9) (14.02,29.2) (15.65,56.9) (17.01,80.1) (18.37,88.4) (19.73,89.4) (21.09,90.3) (22.72,91.7) (24.35,91.7) (25.98,89.4) (27.34,82.4) (28.97,73.1) (30.32,70.8) (31.95,68.5) (33.58,63.9) (35.21,59.3) (36.57,52.3) (37.93,33.8) (39.29,17.6) (40.92,9.7) (42.55,13.0) (44.18,17.6) (46.08,22.2) (47.72,33.8) (49.08,43.1) (50.43,38.4) (51.79,50.0) (53.15,63.9) (54.51,67.6) (55.87,63.9) (57.23,52.3) (58.58,33.8) (59.94,23.1) (61.03,26.9) (62.12,40.7) (63.37,53.0) (64.45,59.3) (65.81,52.3) (66.9,36.1) (67.99,40.7) (69.36,56.9) (70.72,63.9) (72.08,52.3) (73.45,29.2) (74.81,13.0) (76.17,8.3) (77.26,6.9) (78.9,19.9) (80.54,43.1) (81.9,53.2) (83.53,53.2) (85.17,43.1) (86.81,36.1) (88.17,45.4) (89.8,68.5) (91.17,73.1) (92.53,54.6) (93.89,31.5) (94.98,26.9) (96.35,31.5) (97.71,29.2) (99.35,24.5) (100.71,38.4) (102.07,70.8) (103.71,73.1) (105.07,52.3) (106.44,31.5) (107.8,19.9) (109.16,24.5) (110.52,33.8) (111.89,52.3) (112.98,73.1) (113.8,85.0)};
\end{axis}

% stochastic right scale
\begin{axis}[at={(0pt,2pt)}, anchor=south west, scale only axis,
  width=1845pt, height=81pt, xmin=0, xmax=1, ymin=-5.1, ymax=107.4,
  axis x line=none, axis y line*=right, axis line style={draw=axisgray},
  ytick={0,20,40,60,80,100}, yticklabels={}, minor y tick num=1,
  tick align=inside, major tick length=6pt, minor tick length=3pt, tick style={draw=axisgray}]
\addplot[draw=none] coordinates {(0.5,50)};
\end{axis}

% ---------------- texts
\node[anchor=west, inner sep=0pt, font=\fontsize{11.5}{13}\selectfont, text=labeltext] at (8pt,871pt) {[Modele : ichimoku]};
\node[anchor=west, inner sep=0pt, font=\fontsize{11}{13}\selectfont, text=labeltext] at (0pt,97pt) {09/08/2014};
\foreach \xx/\yy in {220/2015, 798.6/2016, 1389.6/2017}
  \node[inner sep=0pt, font=\fontsize{11}{13}\selectfont, text=labeltext] at (\xx pt,900.7pt) {\yy};
\node[anchor=base west, inner sep=0pt, font=\titlefont\bfseries\fontsize{44.5}{50}\selectfont, text=titlegray] at (2pt,147.5pt) {EUR/NZD \raisebox{0.16em}{(}W1\raisebox{0.16em}{)}};
\node[anchor=base west, inner sep=0pt, font=\titlefont\bfseries\fontsize{21.5}{24}\selectfont, text=titlegray] at (1pt,126.7pt) {23/3/2017};
\node[anchor=west, inner sep=0pt, font=\fontsize{11.8}{13}\selectfont] at (9pt,75pt) {\textcolor{stochgreen}{STOCHASTIC(EUR/NZD, 5, 3, 3, MVA, MVA) -\ \ K: 88,39}\ \ \textcolor{red}{D: 85,00}};
\node[anchor=base east, inner sep=1pt, fill=bgcyan, font=\fontsize{11}{13}\selectfont, text=labeltext] at (1828pt,3pt) {FXCM Marketscope \textcopyright{} 2017};
% price labels
\node[anchor=west, inner sep=1.5pt, fill=pricelblue, font=\fontsize{11}{13}\selectfont, text=black] at (1846pt,415pt) {1,53470};
\node[anchor=west, inner sep=1.5pt, fill=red, font=\fontsize{11}{13}\selectfont, text=white] at (1846pt,390pt) {1,51558};
% stochastic labels
\node[anchor=west, inner sep=1pt, fill=gray!75, font=\fontsize{10.5}{12}\selectfont, text=black] at (1848pt,77pt) {100};
\node[anchor=west, inner sep=1pt, fill=stochred, font=\fontsize{10.5}{12}\selectfont, text=black!70] at (1848pt,63pt) {80};
\node[anchor=west, inner sep=1pt, fill=stochred, font=\fontsize{10.5}{12}\selectfont, text=black!70] at (1848pt,19.7pt) {20};
\node[anchor=west, inner sep=1pt, font=\fontsize{10.5}{12}\selectfont, text=black] at (1848pt,5.7pt) {0};
\end{tikzpicture}
\end{document}
